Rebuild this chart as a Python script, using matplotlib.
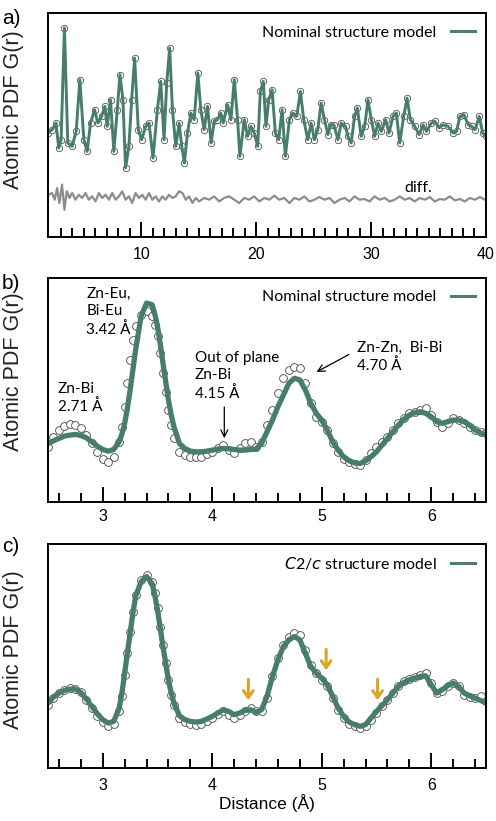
import numpy as np
import matplotlib
matplotlib.use("Agg")
import matplotlib.pyplot as plt
from matplotlib.lines import Line2D

# ---- panel a: full range fit (r in Angstrom, G(r) arb. units) ----
r_a = [1.88, 2.23, 2.58, 2.81, 3.02, 3.31, 3.60, 3.98, 4.33, 4.65, 5.00, 5.29, 5.58, 5.93,
       6.22, 6.54, 6.83, 7.03, 7.32, 7.61, 7.91, 8.14, 8.40, 8.63, 8.92, 9.16, 9.42, 9.74,
       10.03, 10.38, 10.67, 11.02, 11.40, 11.69, 11.98, 12.21, 12.47, 12.71, 13.00, 13.29,
       13.52, 13.75, 14.02, 14.31, 14.60, 14.92, 15.18, 15.47, 15.76, 16.08, 16.34, 16.63,
       16.92, 17.13, 17.51, 17.80, 18.09, 18.38, 18.58, 18.96, 19.25, 19.54, 19.83, 20.13,
       20.36, 20.62, 20.85, 21.09, 21.38, 21.67, 21.96, 22.25, 22.54, 22.89, 23.18, 23.53,
       23.85, 24.14, 24.49, 24.78, 25.07, 25.36, 25.65, 25.94, 26.24, 26.47, 26.76, 27.11,
       27.40, 27.78, 27.98, 28.27, 28.56, 28.80, 29.14, 29.44, 29.73, 30.02, 30.31, 30.60,
       30.89, 31.27, 31.56, 31.91, 32.20, 32.49, 32.84, 33.13, 33.42, 33.80, 34.18, 34.53,
       34.82, 35.25, 35.55, 35.92, 36.27, 36.71, 37.15, 37.44, 37.73, 38.08, 38.46, 38.75,
       39.04, 39.42, 39.71, 40.00]
g_a = [0.0, 0.25, 0.75, -1.12, -0.5, 7.88, -0.75, -1.0, 0.12, 4.0, -0.5, -1.38, 0.75, 1.75,
       0.75, 1.25, 2.0, 0.5, 2.5, -1.38, 1.75, 4.38, 2.5, -2.62, -1.0, 2.5, 5.62, 0.25,
       -0.5, 0.5, 0.75, -1.88, 1.75, 3.88, -0.5, 3.75, 6.38, 1.75, -1.0, 0.75,
       -1.0, -2.25, 0.0, 1.5, 1.0, 4.5, 1.75, 0.25, 2.0, -0.75, 0.88, 1.0,
       1.5, 0.75, 2.12, 1.0, 4.0, 1.0, -1.75, 1.0, -0.25, 0.5, 0.0, -1.0,
       3.12, 3.88, 0.5, 2.5, 3.25, 0.0, -0.5, 1.75, -1.75, 1.0, 1.5, 1.25,
       3.12, 1.0, -0.5, 0.75, -0.5, 0.25, 2.25, 1.0, -0.12, 0.62, 0.62, -0.5,
       0.75, 0.5, -0.25, -0.75, 1.25, 1.88, -0.25, 0.5, 2.5, 1.0, -0.25, 0.75,
       0.12, 1.0, 0.0, 1.25, 1.5, -0.75, 1.25, 2.62, 1.0, 0.5, -0.12, 0.62,
       0.12, 0.75, 0.88, 0.38, 0.62, 0.5, 0.0, 0.12, 1.25, 1.38, 0.62, 0.5,
       0.25, 1.25, 0.0, -0.25]

r_diff = [1.88, 2.23, 2.46, 2.67, 2.87, 3.10, 3.31, 3.51, 3.75, 3.98, 4.27, 4.57, 4.86, 5.15,
          5.43, 5.72, 6.01, 6.31, 6.60, 6.89, 7.18, 7.47, 7.76, 8.05, 8.34, 8.63, 8.92, 9.21,
          9.50, 9.79, 10.08, 10.38, 10.67, 10.96, 11.25, 11.54, 11.83, 12.12, 12.41, 12.70,
          12.99, 13.28, 13.58, 13.87, 14.16, 14.45, 14.74, 15.03, 15.47, 15.90, 16.34, 16.78,
          17.21, 17.65, 18.09, 18.52, 18.96, 19.39, 19.83, 20.27, 20.70, 21.14, 21.58, 22.01,
          22.45, 22.89, 23.32, 23.76, 24.19, 24.63, 25.07, 25.50, 25.94, 26.38, 26.81, 27.25,
          27.69, 28.12, 28.56, 28.99, 29.43, 29.87, 30.30, 30.74, 31.18, 31.61, 32.05, 32.49,
          32.92, 33.36, 33.80, 34.23, 34.67, 35.11, 35.54, 35.98, 36.42, 36.85, 37.29, 37.73,
          38.16, 38.60, 39.04, 39.47, 39.91]
g_diff = [0.12, 0.25, -0.25, 0.62, -0.5, 0.88, -1.0, 0.38, -0.12, 0.25, -0.25, 0.12, -0.12, 0.25,
          -0.25, 0.0, -0.38, 0.25, -0.12, 0.12, -0.25, 0.25, -0.25, 0.0, 0.38, -0.25, 0.0, -0.5,
          0.25, -0.12, 0.12, -0.25, 0.25, -0.25, 0.0, -0.38, 0.0, -0.25, 0.12, -0.12,
          0.0, 0.38, 0.25, -0.25, 0.0, -0.5, -0.12, -0.38, -0.12, -0.25, 0.0, -0.38,
          -0.12, 0.0, -0.25, -0.5, -0.12, -0.25, 0.0, -0.38, -0.12, -0.25, 0.05, -0.25,
          -0.12, -0.5, -0.12, -0.25, 0.0, -0.38, -0.25, -0.05, -0.25, -0.12, -0.5, -0.25,
          -0.12, -0.38, 0.0, -0.25, -0.2, -0.38, 0.0, -0.25, -0.12, -0.38, -0.25, 0.0,
          -0.25, -0.12, -0.38, -0.12, -0.25, -0.05, -0.38, -0.2, -0.25, 0.0, -0.3, -0.2,
          -0.38, -0.12, -0.25, -0.05, -0.25]
DIFF_OFFSET = -4.75

# ---- panels b and c: low-r region ----
r_low = [2.5, 2.55, 2.6, 2.65, 2.7, 2.75, 2.8, 2.85, 2.9, 2.95, 3.0, 3.05, 3.1, 3.15,
         3.175, 3.2, 3.225, 3.25, 3.275, 3.3, 3.35, 3.4, 3.45,
         3.475, 3.5, 3.525, 3.55, 3.575, 3.6, 3.625, 3.65,
         3.7, 3.75, 3.8, 3.85, 3.9, 3.95, 4.0, 4.05, 4.1, 4.15, 4.2, 4.25, 4.3, 4.35, 4.4,
         4.45, 4.5, 4.55, 4.6, 4.65, 4.7, 4.75, 4.8, 4.85, 4.9, 4.95, 5.0, 5.05, 5.1, 5.15,
         5.2, 5.25, 5.3, 5.35, 5.4, 5.45, 5.5, 5.55, 5.6, 5.65, 5.7, 5.75, 5.8, 5.85, 5.9,
         5.95, 6.0, 6.05, 6.1, 6.15, 6.2, 6.25, 6.3, 6.35, 6.4, 6.45, 6.5]

obs_b = [1.2, 1.8, 2.2, 2.44, 2.56, 2.5, 2.3, 1.9, 1.4, 0.9, 0.5, 0.3, 0.6, 1.5,
         2.4, 3.6, 5.0, 6.4, 7.6, 8.4, 9.1, 9.3, 9.0,
         8.5, 7.8, 6.8, 5.6, 4.5, 3.4, 2.5, 1.7,
         0.9, 0.7, 0.6, 0.56, 0.6, 0.76, 0.9, 1.1, 1.3, 1.0, 0.8, 1.1, 1.4, 1.5, 1.2,
         1.5, 2.5, 3.4, 4.4, 5.3, 5.8, 6.0, 5.9, 5.0, 3.8, 3.0, 2.7, 2.2, 1.4, 0.9,
         0.5, 0.3, 0.2, 0.1, 0.4, 0.8, 1.2, 1.5, 1.8, 2.2, 2.6, 2.9, 3.2, 3.3, 3.4,
         3.5, 3.1, 2.7, 2.4, 2.6, 2.9, 2.8, 2.6, 2.4, 2.2, 2.1, 2.0]
nominal_b = [1.4, 1.56, 1.7, 1.84, 1.9, 1.94, 1.88, 1.74, 1.5, 1.24, 1.04, 0.94, 1.04, 1.5,
             1.96, 2.6, 3.5, 4.6, 5.8, 7.0, 9.0, 9.8, 9.7,
             9.16, 8.4, 7.36, 6.2, 5.1, 4.0, 3.1, 2.4,
             1.4, 1.1, 0.94, 0.9, 0.9, 0.94, 1.0, 1.06, 1.1, 1.08, 1.04, 1.0, 1.0, 1.04, 1.06,
             1.4, 2.1, 2.8, 3.6, 4.3, 5.0, 5.3, 5.2, 4.6, 3.8, 3.2, 2.8, 2.2, 1.5, 1.0,
             0.6, 0.36, 0.24, 0.2, 0.36, 0.6, 0.9, 1.3, 1.7, 2.1, 2.5, 2.84, 3.1, 3.24, 3.3,
             3.2, 3.0, 2.7, 2.6, 2.7, 2.8, 2.8, 2.7, 2.5, 2.2, 2.04, 1.9]

obs_c = [1.5, 1.9, 2.2, 2.4, 2.5, 2.46, 2.24, 1.8, 1.3, 0.85, 0.45, 0.25, 0.35, 1.1,
         2.0, 3.3, 4.6, 5.9, 7.1, 8.1, 9.0, 9.3, 8.9,
         8.2, 7.3, 6.2, 5.1, 4.0, 3.0, 2.1, 1.5,
         0.7, 0.45, 0.35, 0.3, 0.35, 0.5, 0.7, 0.95, 1.15, 0.9, 0.7, 0.9, 1.1, 1.3, 1.1,
         1.1, 1.9, 3.2, 4.3, 5.1, 5.6, 5.8, 5.7, 4.8, 3.9, 3.4, 3.0, 2.6, 1.9, 1.2,
         0.7, 0.35, 0.2, 0.1, 0.2, 0.6, 1.0, 1.4, 1.8, 2.2, 2.6, 2.9, 3.05, 3.15, 3.3,
         3.4, 2.8, 2.2, 2.3, 2.6, 2.8, 2.6, 2.1, 1.95, 1.9, 2.0, 1.7]
c2c_c = [1.6, 1.96, 2.2, 2.36, 2.44, 2.44, 2.24, 1.84, 1.4, 0.96, 0.6, 0.4, 0.5, 1.3,
         2.2, 3.4, 4.6, 5.8, 7.0, 8.0, 8.9, 9.2, 8.8,
         8.1, 7.2, 6.1, 5.0, 4.0, 3.0, 2.2, 1.6,
         0.84, 0.6, 0.5, 0.46, 0.5, 0.64, 0.8, 1.0, 1.2, 1.1, 0.9, 1.0, 1.16, 1.2, 1.04,
         1.2, 2.0, 3.2, 4.2, 5.0, 5.4, 5.6, 5.4, 4.6, 3.8, 3.4, 3.1, 2.7, 2.0, 1.3,
         0.8, 0.46, 0.3, 0.2, 0.3, 0.7, 1.1, 1.44, 1.8, 2.2, 2.6, 2.84, 3.0, 3.1, 3.2,
         3.24, 2.7, 2.2, 2.4, 2.64, 2.8, 2.6, 2.2, 2.04, 1.9, 1.76, 1.6]

# positions of the extra features marked in panel c
extra_r = [4.33, 5.04, 5.51]
extra_top = [3.2, 5.0, 3.2]
extra_bot = [1.6, 3.4, 1.6]

GREEN = "#467d6d"
GOLD = "#d9a628"
ANN_FONT = ["Lato", "DejaVu Sans"]

plt.rcParams["font.family"] = ["Liberation Sans", "DejaVu Sans"]

fig = plt.figure(figsize=(4.96, 8.21), dpi=100)
ax_a = fig.add_axes([0.0968, 0.7113, 0.883, 0.2728])
ax_b = fig.add_axes([0.0968, 0.3886, 0.883, 0.2728])
ax_c = fig.add_axes([0.0968, 0.0646, 0.883, 0.2728])


def style_axis(ax, pad):
    for s in ax.spines.values():
        s.set_linewidth(1.4)
    ax.set_yticks([])
    ax.tick_params(axis="x", which="both", direction="in", top=False, width=1.4,
                   labelsize=11.5, pad=pad)
    ax.tick_params(axis="x", which="major", length=11)
    ax.tick_params(axis="x", which="minor", length=6.5)
    ax.set_ylabel("Atomic PDF G(r)", fontsize=15.5, color="#222222")


def model_legend(ax, label, y):
    h = Line2D([], [], color="#4f7d76", lw=2.2)
    leg = ax.legend([h], [label], loc="center right", bbox_to_anchor=(0.975, y),
                    frameon=False, markerfirst=False, handlelength=1.5,
                    handletextpad=0.9, borderpad=0, borderaxespad=0,
                    prop={"family": ANN_FONT, "size": 11.5})
    return leg


# ---- a) ----
ax_a.plot(r_a, g_a, "o", ms=4.6, mfc="white", mec="#505050", mew=0.6)
ax_a.plot(r_a, g_a, color=GREEN, lw=2.1)
ax_a.plot(r_diff, np.array(g_diff) + DIFF_OFFSET, color="#8c8c8c", lw=1.6)
ax_a.text(34.1, -4.1, "diff.", fontsize=11.5, family=ANN_FONT, ha="center", va="center")
ax_a.set_xlim(1.88, 40)
ax_a.set_ylim(-7.8, 9.0)
ax_a.set_xticks([10, 20, 30, 40])
ax_a.set_xticks([t for t in range(3, 40) if t % 10 != 0], minor=True)
style_axis(ax_a, 7)
ax_a.yaxis.set_label_coords(-0.055, 0.57)
model_legend(ax_a, "Nominal structure model", 0.911)

# ---- b) ----
ax_b.plot(r_low, obs_b, "o", ms=5.6, mfc="white", mec="#444444", mew=0.6)
ax_b.plot(r_low, nominal_b, color=GREEN, lw=3.8, solid_capstyle="round")
ax_b.set_xlim(2.5, 6.5)
ax_b.set_ylim(-2.1, 11.3)
ax_b.set_xticks([3, 4, 5, 6])
ax_b.set_xticks([t / 10 for t in range(26, 65, 2) if t % 10 != 0], minor=True)
style_axis(ax_b, 5)
ax_b.yaxis.set_label_coords(-0.055, 0.58)
model_legend(ax_b, "Nominal structure model", 0.915)

ann = dict(fontsize=11, family=ANN_FONT, ha="left", va="top", linespacing=1.3)
ax_b.text(2.85, 10.75, "Zn-Eu,\nBi-Eu\n3.42 Å", **ann)
ax_b.text(2.59, 5.1, "Zn-Bi\n2.71 Å", **ann)
ax_b.text(3.84, 6.95, "Out of plane\nZn-Bi\n4.15 Å", **ann)
ax_b.text(5.32, 7.55, "Zn-Zn,  Bi-Bi\n4.70 Å", **ann)
ax_b.annotate("", xy=(4.11, 1.55), xytext=(4.11, 3.75),
              arrowprops=dict(arrowstyle="->,head_width=0.25,head_length=0.5", lw=0.9, color="black"))
ax_b.annotate("", xy=(4.93, 5.6), xytext=(5.27, 6.8),
              arrowprops=dict(arrowstyle="->,head_width=0.25,head_length=0.5", lw=0.9, color="black"))

# ---- c) ----
ax_c.plot(r_low, obs_c, "o", ms=5.6, mfc="white", mec="#444444", mew=0.6)
ax_c.plot(r_low, c2c_c, color=GREEN, lw=3.8, solid_capstyle="round")
for x, y0, y1 in zip(extra_r, extra_top, extra_bot):
    ax_c.annotate("", xy=(x, y1), xytext=(x, y0),
                  arrowprops=dict(arrowstyle="->,head_width=0.35,head_length=0.5", lw=2.2, color=GOLD))
ax_c.set_xlim(2.5, 6.5)
ax_c.set_ylim(-2.3, 11.16)
ax_c.set_xticks([3, 4, 5, 6])
ax_c.set_xticks([t / 10 for t in range(26, 65, 2) if t % 10 != 0], minor=True)
style_axis(ax_c, 7)
ax_c.yaxis.set_label_coords(-0.055, 0.53)
ax_c.set_xlabel("Distance (Å)", fontsize=12.5, labelpad=1)
model_legend(ax_c, "$\\mathit{C}$2/$\\mathit{c}$ structure model", 0.915)

for lab, y in [("a)", 18), ("b)", 283), ("c)", 546)]:
    fig.text(0.004, 1 - y / 821, lab, fontsize=15, va="center", ha="left")

fig.savefig("out.png", dpi=100)
